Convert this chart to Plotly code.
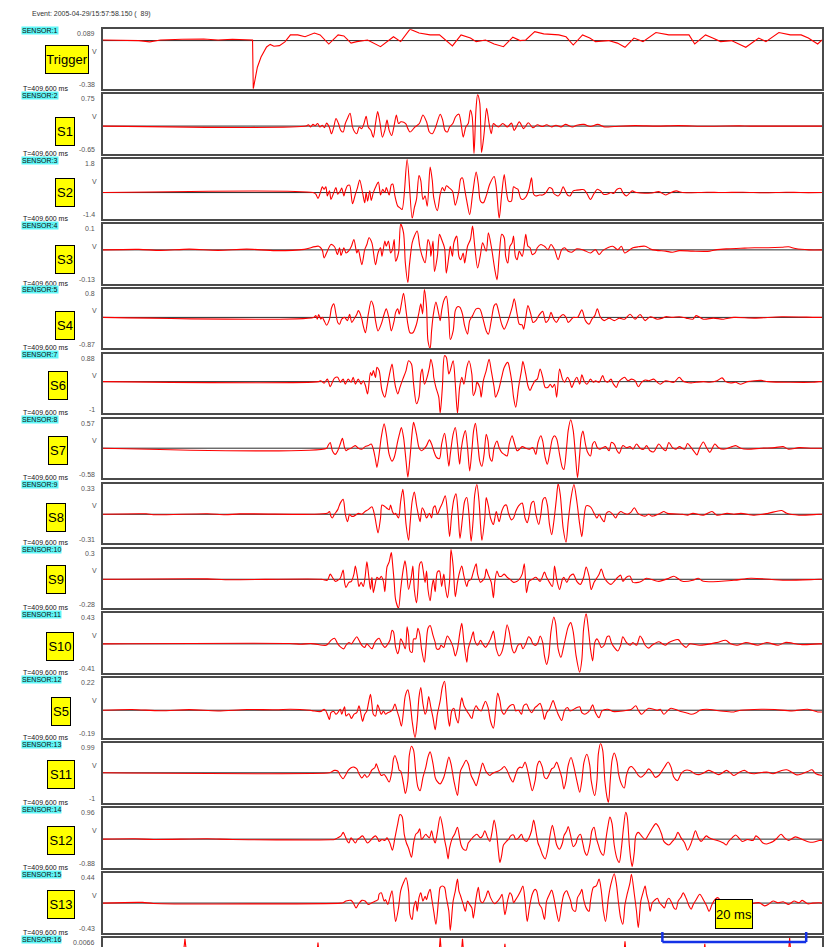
import plotly.graph_objects as go

W, H = 824, 947

# ---------------- data (time in ms, amplitude in V) ----------------
trigger = [(0,0.005),(3,0.005),(5,0),(6.5,-0.01),(8,0.005),(11,0.01),(14,0.012),(16,0.005),(18,0.01),(20.8,0.005),
           (20.9,-0.38),(21.47,-0.21),(21.98,-0.13),(22.75,-0.05),(23.26,-0.03),(23.77,-0.045),(24.54,-0.04),(25.3,-0.01),
           (26.07,0.045),(27.09,0.045),(28.1,0.03),(29.4,0.06),(30.2,0.045),(31.4,-0.027),(32.7,0.045),(33.5,0.037),
           (34.5,-0.02),(35.3,-0.008),(36.8,0.005),(38.6,-0.048),(40.4,0.03),(41.4,-0.008),(42.7,0.09),(43.96,0.06),
           (45.5,0.045),(46.8,0.045),(48.6,-0.042),(49.8,0.045),(51.1,0.02),(51.9,-0.008),(53.2,0.005),(54.4,-0.027),
           (55.7,-0.048),(57.0,0.027),(58.0,0),(58.8,0.005),(60.05,0.07),(61.3,0.053),(63.4,0.045),(64.4,0.03),
           (65.4,-0.035),(66.7,0.045),(67.7,0.02),(68.5,-0.008),(70.3,0),(71.55,-0.02),(72.6,-0.053),(73.85,0.02),
           (75.1,-0.008),(76.9,0.064),(78.7,0.045),(80.2,0.045),(81.5,0.045),(82.3,-0.027),(83.8,0.045),(84.8,0.02),
           (85.9,-0.008),(87.4,0),(89.4,-0.053),(91.2,0.02),(92.2,-0.008),(94.0,0.064),(95.6,0.045),(97.1,0.045),
           (98.1,0.02),(99.4,-0.027),(100,0.005)]

s1 = [(0,0),(28.24,0),(28.56,0.03),(28.88,-0.02),(29.2,0.04),(29.5,0.01),(29.85,0.06),(30.17,-0.02),(30.5,0.02),
      (30.8,-0.04),(31.1,0.07),(31.46,-0.02),(31.78,-0.18),(32.1,-0.02),(32.4,0.18),(32.75,0.06),(33.07,-0.10),
      (33.4,-0.14),(33.7,0.06),(34.0,0.18),(34.36,0.30),(34.7,-0.02),(35.0,-0.14),(35.3,-0.18),(35.64,-0.02),
      (35.97,-0.06),(36.3,0.06),(36.6,0.23),(36.9,-0.02),(37.25,-0.10),(37.6,-0.26),(37.9,0.06),(38.2,0.34),
      (38.5,0.10),(38.86,-0.26),(39.2,-0.10),(39.5,0.14),(39.8,-0.10),(40.15,-0.22),(40.5,0.02),(40.8,0.26),
      (41.1,0.06),(41.44,0.10),(42.1,0.06),(42.4,-0.06),(42.7,-0.14),(43.4,-0.02),(44.0,0.06),(44.5,0.26),
      (45.0,0.10),(45.4,-0.14),(45.8,-0.18),(46.27,-0.02),(46.9,0.28),(47.24,0.14),(47.56,-0.10),(47.9,-0.14),
      (48.2,-0.02),(48.65,0.06),(49.04,0.22),(49.5,0.28),(49.8,0.06),(50.1,-0.26),(50.46,-0.02),(50.8,0.06),
      (51.1,0.38),(51.35,0.22),(51.6,-0.65),(51.87,0.38),(52.1,0.74),(52.4,0.54),(52.65,-0.62),(53.0,-0.18),
      (53.35,0.42),(53.7,0.06),(54.0,-0.18),(54.3,0.06),(54.6,0.02),(55.0,-0.02),(55.6,0.06),(56.25,-0.02),
      (56.8,0.07),(57.2,-0.10),(57.9,0.10),(58.5,-0.06),(59.15,0.08),(59.8,-0.04),(60.4,0.03),(61.1,-0.01),
      (61.7,0.03),(62.4,-0.02),(63.0,0.02),(63.7,-0.02),(64.3,0.04),(65.3,-0.02),(65.9,0.02),(66.9,0.04),
      (67.8,-0.01),(68.8,0.04),(69.8,-0.02),(71.1,-0.01),(74,0.01),(77,0),(80,0.01),(84,-0.005),(88.5,0.005),
      (90,0),(100,0)]

s2 = [(0,0),(29.2,0),(29.6,-0.09),(29.9,-0.31),(30.3,0.09),(30.5,0.31),(30.75,0.18),(31.0,0.31),(31.2,-0.18),
      (31.5,0.09),(31.7,-0.37),(32.1,0),(32.4,0.27),(32.65,-0.09),(33.0,0.09),(33.2,0.24),(33.5,-0.18),(33.7,0.09),
      (34.0,0.37),(34.3,0.40),(34.7,-0.60),(35.1,-0.09),(35.4,0.27),(35.7,0.68),(36.1,0),(36.4,-0.55),(36.6,0),
      (36.8,-0.46),(37.1,0.09),(37.3,-0.42),(37.6,0),(38.0,0.37),(38.3,0.57),(38.6,-0.13),(38.9,0.18),(39.2,0),
      (39.4,0.27),(39.8,-0.13),(40.1,0.42),(40.3,0.46),(40.6,-0.18),(41.0,-0.73),(41.3,-0.82),(41.6,-0.91),
      (42.3,1.77),(43.0,-1.39),(43.3,-0.82),(43.6,-0.37),(43.95,0.91),(44.2,0.64),(44.5,-0.37),(44.8,-0.18),
      (45.1,-0.73),(45.5,1.37),(45.8,0.64),(46.0,-0.27),(46.5,-0.97),(46.9,-0.09),(47.2,0.27),(47.5,0.09),
      (47.75,0.37),(48.1,0.27),(48.6,0.09),(49.0,-0.68),(49.5,0.09),(49.75,0.73),(50.0,0.79),(50.3,0.18),
      (50.6,-0.46),(51.0,-1.19),(51.4,-0.09),(51.9,1.10),(52.2,0.46),(52.5,-0.46),(52.9,-0.55),(53.3,-0.18),
      (53.8,0.46),(54.4,0.86),(54.7,0.27),(55.1,-1.39),(55.45,-0.09),(55.8,0.97),(56.1,0.09),(56.4,-0.46),
      (56.8,-0.46),(57.1,0.31),(57.4,0.24),(57.7,0.18),(58.1,-0.31),(58.4,-0.37),(58.8,-0.24),(59.25,0.18),
      (59.6,0.79),(59.9,-0.09),(60.2,-0.18),(60.7,-0.13),(61.15,-0.13),(61.6,0),(62.1,0.27),(62.5,0.18),
      (62.7,-0.05),(63.3,-0.18),(63.6,-0.05),(64.0,0.31),(64.2,0.18),(64.6,-0.13),(64.95,-0.18),(65.4,0.09),
      (65.9,0.13),(66.5,0.16),(66.9,0.15),(67.3,-0.05),(67.8,-0.37),(68.3,-0.05),(68.75,0.18),(69.2,0.09),
      (69.6,-0.09),(70.1,-0.09),(70.65,0),(71.0,-0.05),(71.5,0.18),(72.0,0.22),(72.3,0),(72.8,-0.18),(73.3,0),
      (73.6,0.09),(74.2,0),(76.35,-0.02),(77.3,0.05),(78.25,-0.13),(78.7,-0.05),(79.7,0.09),(80.6,0),
      (84,0.02),(86,0),(89,0.02),(92,-0.01),(95,0.02),(97,0),(100,0)]

s3 = [(0,0),(5,0.002),(8,-0.002),(12,0.003),(16,-0.002),(20,0.003),(24,-0.003),(28,0.002),(30.0,0.014),
      (30.5,-0.001),(30.75,-0.031),(31.2,-0.005),(31.7,0.021),(32.2,0.012),(32.6,-0.018),(32.9,0.008),
      (33.1,-0.022),(33.5,0.008),(33.8,-0.012),(34.2,-0.003),(34.55,0.014),(34.9,0.04),(35.3,-0.012),
      (35.5,0.001),(36.0,-0.057),(36.4,0.001),(36.7,0.021),(37.0,0.047),(37.4,0.027),(37.9,-0.057),
      (38.25,-0.012),(38.6,0.008),(38.8,-0.025),(39.2,0.034),(39.4,0.014),(39.7,0.034),(40.0,-0.012),
      (40.25,0.001),(40.5,0.04),(40.7,-0.044),(41.1,-0.012),(41.4,0.1),(41.8,0.066),(42.05,-0.051),
      (42.4,-0.126),(42.6,-0.064),(43.0,0.027),(43.3,0.053),(43.7,0.073),(44.05,0.014),(44.4,-0.025),
      (44.8,-0.05),(45.2,0.04),(45.5,0.014),(45.6,-0.025),(45.9,0.034),(46.1,-0.083),(46.5,-0.025),
      (46.8,0.06),(47.1,0.04),(47.5,0.008),(47.75,-0.09),(48.1,-0.025),(48.3,0.014),(48.6,-0.025),
      (48.8,0.027),(49.2,0.053),(49.5,-0.025),(49.75,-0.038),(50.1,-0.012),(50.3,-0.051),(50.7,0.014),
      (51.1,0.04),(51.4,0.092),(51.7,0.014),(52.1,-0.07),(52.5,-0.018),(52.8,0.027),(53.3,-0.005),
      (53.6,0.066),(54.0,0.014),(54.5,-0.077),(54.8,-0.116),(55.1,-0.025),(55.45,0.06),(55.8,0.047),
      (56.0,-0.025),(56.3,-0.051),(56.6,0.014),(56.9,0.027),(57.1,0.053),(57.35,-0.025),(57.6,-0.038),
      (57.9,-0.005),(58.3,-0.025),(58.6,0.021),(58.8,0.06),(59.1,0.014),(59.4,0.008),(59.7,-0.018),
      (60.1,-0.012),(60.4,0.008),(60.9,0.021),(61.4,0.014),(61.9,0.001),(62.3,0.021),(62.8,0.001),
      (63.3,-0.038),(63.8,0.001),(64.2,0.008),(64.7,-0.005),(65.2,-0.009),(65.9,0.004),(66.85,-0.001),
      (67.8,-0.012),(68.5,0.001),(69.0,-0.018),(69.5,-0.003),(70.2,0.008),(70.9,0.014),(71.6,0.001),
      (72.1,0.014),(72.55,-0.012),(73.0,-0.005),(73.7,0.008),(74.45,0.012),(75.4,0.014),(76.35,0.001),
      (78.25,-0.005),(79.2,-0.009),(80.15,-0.003),(82.05,-0.005),(84.4,-0.005),(85.4,0.001),(86.8,0.004),
      (88.7,0.006),(90.6,0.008),(92.5,0.008),(94.4,0.01),(95.35,0.012),(96.3,0.005),(98.2,0),(100,0)]

s4 = [(0,0),(29.3,0),(29.6,0.05),(29.8,-0.05),(30.0,0.08),(30.3,-0.05),(30.5,0),(30.75,-0.09),(31.1,-0.22),
      (31.5,-0.05),(31.8,0.28),(32.1,0.38),(32.4,0.09),(32.65,-0.14),(32.9,-0.19),(33.2,-0.05),(33.6,0),
      (34.0,-0.09),(34.3,0.09),(34.6,-0.14),(34.9,-0.05),(35.3,0.09),(35.5,0.19),(35.7,0.14),(36.0,-0.05),
      (36.2,-0.24),(36.5,-0.43),(36.9,0.09),(37.3,0.46),(37.6,0.33),(37.9,-0.09),(38.25,-0.38),(38.7,-0.19),
      (39.1,0.09),(39.4,0.24),(39.8,-0.05),(40.1,-0.38),(40.5,-0.09),(40.7,0.14),(41.0,0.24),(41.2,0.09),
      (41.5,0.38),(41.8,0.68),(42.15,0.19),(42.4,-0.19),(42.7,-0.43),(43.1,-0.43),(43.6,-0.19),(43.9,0.09),
      (44.2,0.38),(44.45,0.1),(44.7,0.78),(45.0,0.28),(45.2,-0.66),(45.5,-0.87),(45.7,-0.38),(45.95,0.09),
      (46.3,0.43),(46.7,0.09),(46.9,-0.09),(47.1,0.19),(47.4,0.47),(47.75,0.59),(48.1,0),(48.3,-0.62),
      (48.7,-0.38),(49.0,0.19),(49.3,0.30),(49.65,0.28),(50.0,0.09),(50.3,-0.24),(50.7,-0.47),(51.0,-0.09),
      (51.4,0.05),(51.9,0.24),(52.4,0.24),(52.8,0),(53.3,-0.38),(53.6,-0.47),(54.0,-0.09),(54.4,0.33),
      (54.7,0.38),(55.1,0.09),(55.45,-0.19),(55.8,-0.33),(56.4,-0.05),(56.9,0.28),(57.2,0.52),(57.6,0.09),
      (57.9,-0.19),(58.3,-0.21),(58.5,-0.33),(58.8,0),(59.1,0.33),(59.5,0.09),(59.8,-0.14),(60.2,-0.09),
      (60.6,0.05),(61.15,0.17),(61.6,-0.14),(62.0,-0.05),(62.3,0.14),(62.7,-0.05),(63.05,-0.14),(63.5,0),
      (64.0,0.08),(64.4,0),(64.7,-0.14),(65.0,-0.09),(65.4,0),(66.0,0),(66.6,0.21),(67.1,-0.09),(67.6,-0.19),
      (68.0,-0.05),(68.4,0.05),(68.75,0.24),(69.2,0),(69.7,-0.09),(70.4,-0.02),(71.1,-0.09),(71.8,-0.02),
      (72.55,-0.05),(73.3,0.09),(74.0,-0.05),(74.7,0.08),(75.4,-0.09),(76.1,0.02),(77.1,-0.05),(77.8,-0.02),
      (78.25,0.02),(79.2,0),(80.15,0.02),(81.1,-0.02),(82.05,-0.05),(82.5,0.05),(83.5,-0.05),(84.9,-0.02),
      (86.3,-0.05),(87.75,0),(90.6,-0.02),(94.4,0.02),(99.15,0),(100,0)]

s6 = [(0,0),(30.0,0),(30.3,0.03),(30.75,-0.05),(31.2,0.08),(31.6,-0.16),(31.9,-0.02),(32.2,0.11),(32.65,0.14),
      (33.0,-0.02),(33.4,0.08),(33.7,-0.08),(34.1,0.08),(34.5,-0.02),(34.8,0.14),(35.1,-0.08),(35.5,0.08),
      (35.9,-0.08),(36.2,0.03),(36.5,-0.13),(36.8,-0.39),(37.2,0.29),(37.4,0.19),(37.6,0.35),(37.9,0.13),
      (38.1,0.45),(38.4,0.35),(38.8,-0.28),(39.2,-0.49),(39.5,-0.18),(39.9,0.29),(40.2,0.56),(40.5,0.08),
      (40.7,-0.18),(41.0,-0.39),(41.3,-0.18),(41.7,0.08),(42.15,0.35),(42.5,0.66),(42.9,0.56),(43.2,-0.08),
      (43.6,-0.70),(43.95,-0.49),(44.2,0.24),(44.4,0.40),(44.7,-0.08),(45.0,0.08),(45.4,0.45),(45.6,0.71),
      (45.9,0.40),(46.0,0.14),(46.3,-0.18),(46.7,-0.49),(46.9,-1.0),(47.2,-0.18),(47.5,0.82),(47.75,0.77),
      (48.1,0.24),(48.3,0.35),(48.7,0.66),(49.0,-0.08),(49.3,-1.0),(49.6,-0.18),(49.9,0.14),(50.2,-0.08),
      (50.6,0.45),(50.9,0.66),(51.3,0.24),(51.5,-0.44),(51.8,-0.28),(52.0,-0.02),(52.4,-0.18),(52.6,-0.49),
      (52.9,0.03),(53.3,0.35),(53.7,0.71),(54.0,0.35),(54.4,-0.18),(54.6,-0.49),(55.0,-0.28),(55.45,0.14),
      (55.8,0.45),(56.3,0.61),(56.6,0.35),(56.9,-0.08),(57.1,-0.49),(57.4,-0.81),(57.8,-0.18),(58.2,0.35),
      (58.4,0.64),(58.8,0.24),(59.1,-0.13),(59.4,-0.28),(59.7,-0.13),(60.1,0.03),(60.4,0.08),(60.8,0.40),
      (61.15,0.14),(61.5,-0.18),(61.9,-0.18),(62.2,-0.08),(62.5,-0.18),(62.8,-0.08),(63.1,-0.49),(63.5,0.40),
      (63.9,0.08),(64.2,-0.02),(64.6,0.14),(64.9,0.03),(65.2,-0.18),(65.6,0.03),(65.9,0.14),(66.3,-0.08),
      (66.6,0.22),(66.9,0.03),(67.3,-0.08),(67.8,0.08),(68.2,-0.02),(68.5,0.03),(69.0,-0.02),(69.5,0.19),
      (69.8,0.03),(70.2,-0.02),(70.65,0.08),(71.0,-0.08),(71.4,-0.18),(71.7,-0.02),(72.1,0.08),(72.55,0.14),
      (73.0,0.03),(73.5,0.08),(74.0,0.03),(74.45,-0.16),(74.9,-0.02),(75.4,0.05),(75.9,0.03),(76.6,0.08),
      (77.1,-0.02),(77.5,-0.08),(78.25,0.03),(79.4,-0.02),(80.15,0.14),(80.6,0.03),(81.1,-0.02),(81.8,-0.04),
      (82.5,-0.02),(83.5,0),(84.4,-0.02),(85.4,0.03),(86.1,0.12),(86.6,0),(87.3,-0.04),(88.0,-0.02),
      (88.7,-0.08),(89.65,0),(90.6,0.03),(91.55,0.04),(92.5,0),(98.7,-0.02),(99.6,0),(100,0)]

s7 = [(0,0),(31.1,0),(31.3,0.05),(31.6,0.11),(31.9,-0.05),(32.3,-0.12),(32.65,-0.05),(33.0,0.08),(33.3,0.19),
      (33.6,0.01),(33.8,-0.05),(34.1,-0.02),(34.5,0),(34.8,0.03),(35.1,0.05),(35.5,0),(36.0,-0.02),(36.45,0.03),
      (36.9,0.05),(37.3,0.08),(37.6,-0.02),(37.9,-0.22),(38.1,-0.37),(38.4,-0.12),(38.7,0.21),(39.1,0.47),
      (39.4,0.27),(39.8,-0.12),(40.2,-0.25),(40.5,-0.18),(41.0,0.14),(41.3,0.31),(41.5,0.40),(41.8,0.21),
      (42.15,-0.25),(42.4,-0.56),(42.7,-0.18),(43.0,0.31),(43.2,0.50),(43.6,0.27),(43.95,0.01),(44.3,-0.05),
      (44.6,-0.02),(45.0,0.05),(45.4,0.16),(45.7,0.08),(46.0,-0.05),(46.4,-0.18),(46.8,-0.20),(47.1,0.08),
      (47.5,0.29),(47.75,0.08),(48.1,-0.35),(48.3,-0.12),(48.7,0.27),(49.0,0.40),(49.3,0.08),(49.6,-0.31),
      (49.8,-0.05),(50.1,0.21),(50.4,0.34),(50.7,0.01),(51.0,-0.44),(51.3,-0.05),(51.55,0.34),(51.8,0.48),
      (52.1,0.14),(52.4,-0.25),(52.7,-0.35),(53.0,-0.12),(53.3,0.27),(53.55,0.14),(53.8,-0.18),(54.1,-0.25),
      (54.4,0.01),(54.8,0.14),(55.1,0.01),(55.45,-0.08),(55.8,-0.12),(56.2,-0.15),(56.5,0.08),(56.9,0.24),
      (57.2,0.11),(57.6,-0.05),(57.9,-0.02),(58.3,0.03),(58.8,0),(59.25,-0.02),(59.8,0.01),(60.2,-0.12),
      (60.5,0.11),(60.9,0.24),(61.15,0.14),(61.5,-0.18),(61.8,-0.31),(62.1,-0.12),(62.5,0.18),(62.8,0.24),
      (63.1,0.18),(63.5,-0.12),(63.9,-0.38),(64.1,-0.41),(64.5,0.05),(64.7,0.34),(65.05,0.55),(65.4,0.34),
      (65.7,-0.12),(66.0,-0.57),(66.3,-0.12),(66.5,0.21),(66.75,0.33),(67.1,0.08),(67.4,-0.08),(67.8,-0.15),
      (68.1,0.08),(68.4,0.13),(68.75,0.01),(69.1,-0.02),(69.5,0.01),(69.9,0.03),(70.4,-0.05),(70.7,0.11),
      (71.1,0.08),(71.5,-0.05),(71.8,-0.10),(72.3,0.05),(72.8,0.01),(73.3,0.03),(73.7,-0.02),(74.2,0.08),
      (74.7,0),(75.2,-0.02),(75.6,0.05),(76.1,-0.05),(76.6,-0.07),(77.3,0.08),(77.8,0),(78.25,-0.05),
      (78.7,0.11),(79.2,0.01),(79.7,-0.02),(80.15,0.03),(80.9,-0.02),(81.3,0.09),(81.8,0.01),(82.3,-0.08),
      (82.6,-0.13),(83.0,0.01),(83.5,0.12),(83.95,0.01),(84.4,-0.08),(85.1,0.08),(85.6,0.01),(86.3,-0.02),
      (86.9,0),(87.5,0.03),(88.0,0.05),(88.7,0),(89.65,-0.02),(91.55,0),(93.45,0.01),(94.6,0.03),
      (95.35,-0.02),(96.8,0.01),(98.7,0),(100,0)]

s8 = [(0,0),(6,0.005),(7,-0.005),(14.5,0.005),(17,-0.005),(19,0.004),(28.85,0),(31.2,0.01),(31.5,0.03),
      (31.7,-0.02),(31.9,-0.04),(32.2,0),(32.65,0.05),(33.0,0.12),(33.4,0.16),(33.7,0),(34.0,-0.08),(34.3,0),
      (34.55,-0.02),(34.9,-0.02),(35.3,0),(35.5,0.01),(36.0,0),(36.45,0.03),(36.9,0.05),(37.4,0.08),
      (37.8,-0.02),(38.0,-0.11),(38.25,-0.20),(38.6,-0.04),(38.8,0.10),(39.1,0.09),(39.4,0.07),(39.8,0.05),
      (40.0,0.10),(40.25,0.03),(40.5,0),(40.7,0.01),(41.1,-0.04),(41.4,0.14),(41.7,0.27),(41.9,0.14),
      (42.15,-0.11),(42.5,-0.28),(42.7,-0.11),(43.0,0.14),(43.3,0.24),(43.6,0.10),(43.95,-0.04),(44.1,-0.08),
      (44.4,0.07),(44.7,0.03),(45.0,-0.04),(45.4,0.01),(45.7,-0.04),(45.95,0.07),(46.2,0.09),(46.5,0),
      (46.9,0.07),(47.2,0.12),(47.6,0.20),(47.9,0.03),(48.2,-0.24),(48.5,0),(48.8,0.16),(49.1,0.22),(49.4,0),
      (49.65,-0.26),(50.0,-0.04),(50.3,0.14),(50.6,0.18),(50.9,0),(51.2,-0.29),(51.5,-0.04),(51.7,0.21),
      (52.0,0.32),(52.3,0.14),(52.5,-0.11),(52.7,-0.28),(53.1,-0.04),(53.3,0.18),(53.6,0.09),(53.9,-0.04),
      (54.3,-0.11),(54.5,-0.04),(54.7,0.03),(55.1,-0.08),(55.45,0.03),(55.8,0.09),(56.1,0.10),(56.4,0.01),
      (56.8,-0.06),(57.1,-0.04),(57.4,0.03),(57.8,0.09),(58.3,0.12),(58.7,-0.04),(59.0,-0.09),(59.3,0),
      (59.6,0.12),(59.9,0.14),(60.2,0),(60.6,-0.11),(60.9,0),(61.2,0.16),(61.5,0.18),(61.8,0.10),
      (62.1,-0.11),(62.4,-0.22),(62.7,-0.08),(63.05,0.16),(63.3,0.33),(63.6,0.21),(64.0,-0.15),(64.4,-0.30),
      (64.7,-0.08),(65.1,0.18),(65.5,0.32),(65.9,0.14),(66.3,-0.11),(66.6,-0.24),(66.9,-0.04),(67.2,0.09),
      (67.6,0.09),(67.9,0.07),(68.3,0.01),(68.7,-0.04),(69.0,0),(69.3,-0.04),(69.7,-0.08),(70.0,0.01),
      (70.4,0.03),(70.9,0),(71.3,-0.04),(71.6,0),(72.0,0.03),(72.5,0.01),(72.9,0),(73.4,0.02),(73.9,0.07),
      (74.4,0.01),(75.4,-0.02),(75.9,0),(76.35,-0.02),(77.5,0.01),(78.0,0.03),(78.5,0.01),(80.6,0),
      (81.3,-0.01),(82.05,0.01),(83.5,-0.01),(84.7,0.03),(85.4,-0.01),(86.8,0.01),(87.75,0),(88.7,0.01),
      (90.6,-0.01),(92.5,0.01),(94.4,0.04),(95.1,0.01),(96.8,-0.01),(99.6,0),(100,0)]

s9 = [(0,0),(14.5,0.004),(17,-0.004),(30.4,0),(31.2,-0.01),(31.6,0.05),(31.9,0.02),(32.3,-0.02),(32.65,-0.01),
      (33.0,0.01),(33.4,0.09),(33.6,-0.03),(33.8,-0.08),(34.2,-0.03),(34.55,-0.02),(34.9,0.05),(35.1,0.13),
      (35.4,0.02),(35.6,-0.07),(35.9,-0.03),(36.2,-0.07),(36.45,0.02),(36.7,0.17),(36.9,0.07),(37.2,-0.10),
      (37.4,0.02),(37.6,-0.13),(37.9,-0.03),(38.1,0.02),(38.4,0),(38.7,0.03),(39.0,-0.02),(39.2,-0.12),
      (39.5,0.12),(39.8,0.17),(40.1,0.26),(40.25,0.17),(40.5,-0.03),(40.7,-0.20),(41.1,-0.28),(41.4,-0.10),
      (41.7,0.07),(42.0,0.18),(42.2,0.10),(42.5,-0.10),(42.9,0.03),(43.1,0.13),(43.3,-0.10),(43.6,-0.23),
      (43.8,-0.10),(44.05,0.15),(44.3,0.17),(44.5,0.10),(44.8,-0.03),(45.0,0.08),(45.2,-0.10),(45.5,-0.21),
      (45.7,-0.10),(45.95,0),(46.2,-0.12),(46.5,0.07),(46.8,0.08),(47.1,-0.07),(47.4,0.05),(47.6,-0.07),
      (47.9,-0.18),(48.2,-0.02),(48.4,0.29),(48.7,0.13),(49.0,-0.17),(49.3,-0.03),(49.6,0.07),(49.9,0.13),
      (50.2,0.03),(50.6,-0.07),(50.8,-0.02),(51.2,0),(51.5,0.07),(51.9,0.15),(52.1,0.05),(52.5,-0.03),
      (52.7,-0.02),(53.1,0.02),(53.3,0.10),(53.55,0.05),(54.0,-0.03),(54.3,-0.18),(54.5,-0.02),(54.8,0.08),
      (55.1,0.03),(55.45,0.03),(55.8,0.05),(56.2,0.02),(56.6,0),(57.1,-0.03),(57.6,-0.02),(57.9,0),(58.3,0.05),
      (58.6,0.15),(58.9,-0.13),(59.25,-0.02),(59.7,0),(60.2,0.02),(60.8,-0.02),(61.4,0.07),(61.7,0.02),
      (62.1,-0.03),(62.5,-0.07),(62.8,0.13),(63.1,0),(63.5,-0.10),(63.9,0),(64.1,0.02),(64.5,-0.03),
      (64.95,0.03),(65.4,0.05),(65.9,-0.02),(66.4,-0.05),(66.85,0.02),(67.2,0.12),(67.6,0.03),(67.9,-0.10),
      (68.3,-0.03),(68.75,0.02),(69.0,0.05),(69.3,0.10),(69.7,0.02),(70.2,-0.03),(70.65,-0.05),(71.1,-0.02),
      (71.6,0.02),(72.0,0.04),(72.3,-0.02),(72.8,0.02),(73.3,0.03),(73.7,-0.03),(74.45,-0.03),(74.9,-0.02),
      (75.6,0.01),(77.3,-0.02),(78.7,0.01),(79.4,0.03),(79.9,0.01),(80.6,-0.02),(82.05,-0.01),(82.8,0.01),
      (83.5,-0.02),(87.75,-0.01),(90.1,0.01),(94.9,-0.01),(99.6,0),(100,0)]

s10 = [(0,0),(26,0.005),(27.5,-0.005),(29,0.004),(31.0,-0.02),(31.3,0),(31.7,0.05),(32.2,0.08),(32.65,0),
       (33.1,-0.05),(33.5,-0.07),(33.8,-0.02),(34.2,0.02),(34.55,0),(34.9,0.05),(35.3,0.10),(35.6,0.05),
       (36.0,-0.02),(36.4,-0.05),(36.7,0),(37.4,-0.07),(37.8,0.02),(38.1,0.06),(38.4,0.08),(38.8,0),
       (39.2,-0.05),(39.5,-0.02),(39.9,0.05),(40.2,0.19),(40.4,0.17),(40.7,-0.05),(41.0,-0.14),(41.2,-0.07),
       (41.4,0.07),(41.7,0.02),(42.05,-0.07),(42.3,0.24),(42.5,0.12),(42.7,-0.10),(43.0,-0.12),(43.2,0.07),
       (43.5,0.07),(43.8,0.22),(44.05,0.14),(44.3,-0.07),(44.7,-0.26),(44.9,-0.07),(45.2,0.22),(45.5,0.26),
       (45.9,0.12),(46.2,0.02),(46.4,-0.07),(46.8,-0.07),(47.0,-0.02),(47.4,-0.05),(47.6,0.02),(47.9,0.11),
       (48.3,0.05),(48.7,-0.05),(49.0,-0.17),(49.3,-0.07),(49.65,0.17),(49.9,0.29),(50.2,0.02),(50.6,-0.26),
       (50.8,-0.07),(51.2,0.07),(51.5,0.17),(51.7,0.05),(52.1,-0.02),(52.5,0.05),(52.8,0),(53.2,-0.05),
       (53.55,0),(53.9,0.07),(54.3,0.18),(54.5,0.07),(54.7,-0.07),(55.1,-0.17),(55.45,-0.12),(55.8,0.02),
       (56.2,0.27),(56.5,0.17),(56.9,-0.07),(57.2,-0.13),(57.4,-0.10),(57.7,-0.02),(58.1,0),(58.4,-0.07),
       (58.8,0),(59.2,0.10),(59.5,0.07),(59.8,0),(60.2,-0.02),(60.5,0.02),(60.8,0.11),(61.15,0.02),
       (61.4,-0.17),(61.7,-0.29),(62.0,-0.17),(62.3,0.17),(62.7,0.38),(62.95,0.29),(63.3,-0.07),(63.7,-0.19),
       (64.0,-0.07),(64.4,0.12),(64.7,0.24),(65.05,0.30),(65.4,0.17),(65.8,-0.17),(66.3,-0.40),(66.6,-0.22),
       (66.85,0.22),(67.2,0.43),(67.5,0.22),(67.8,-0.07),(68.1,-0.24),(68.4,0.02),(68.7,0.07),(69.0,0.02),
       (69.3,-0.05),(69.7,-0.02),(70.1,0.10),(70.4,0.11),(70.7,0.02),(71.1,-0.05),(71.6,-0.10),(72.0,-0.02),
       (72.3,0.10),(72.8,0.02),(73.3,-0.02),(73.7,0.02),(74.2,-0.02),(74.7,0.11),(75.0,0.07),(75.4,-0.02),
       (75.9,-0.06),(76.35,-0.02),(77.3,0.03),(77.8,0),(78.25,-0.02),(78.7,0.02),(80.0,0.06),(80.5,0),
       (81.1,-0.05),(81.6,0),(83.0,-0.02),(85.4,0.02),(86.6,0.05),(87.3,0),(88.2,-0.02),(89.4,0.02),
       (91.1,-0.02),(92.3,0.02),(93.9,-0.02),(94.9,0.02),(97.0,-0.01),(99.6,0),(100,0)]

s5 = [(0,0),(4,0.005),(8,-0.004),(12,0.004),(16,-0.005),(20,0.005),(24,0.003),(26.0,0.007),(27.4,0.005),
      (28.85,0),(29.3,-0.005),(30.3,-0.009),(30.75,0.007),(31.0,-0.005),(31.2,-0.028),(31.5,-0.064),
      (31.7,-0.017),(32.1,-0.009),(32.4,-0.028),(32.65,-0.017),(33.0,0.007),(33.2,-0.028),(33.6,0.024),
      (33.8,-0.040),(34.2,-0.024),(34.55,-0.057),(34.9,-0.028),(35.3,-0.017),(35.6,0.031),(35.8,-0.005),
      (36.1,-0.076),(36.4,-0.028),(36.7,-0.005),(36.9,0.043),(37.2,0.109),(37.4,0.043),(37.6,-0.028),
      (37.9,-0.040),(38.2,0.038),(38.4,0.014),(38.7,-0.028),(39.0,-0.005),(39.3,-0.028),(39.6,-0.017),
      (40.0,-0.009),(40.3,0.007),(40.6,0.043),(40.9,-0.005),(41.2,-0.052),(41.5,-0.11),(41.8,-0.005),
      (42.05,0.10),(42.4,0.14),(42.7,0.066),(43.0,-0.076),(43.4,-0.19),(43.7,-0.076),(43.95,0.090),
      (44.2,0.156),(44.5,0.043),(44.8,-0.028),(45.0,-0.005),(45.3,0.095),(45.6,0.019),(45.9,-0.052),
      (46.2,-0.135),(46.5,-0.028),(46.9,0.066),(47.2,0.16),(47.5,0.20),(47.75,0.090),(48.0,-0.052),
      (48.2,-0.11),(48.5,-0.005),(48.8,0.014),(49.1,-0.052),(49.4,-0.088),(49.65,0.019),(49.9,0.085),
      (50.2,0.031),(50.6,-0.005),(50.9,-0.028),(51.3,-0.057),(51.55,-0.005),(51.9,0.031),(52.2,0.007),
      (52.6,-0.005),(52.9,0.031),(53.2,0.062),(53.55,0.019),(53.9,-0.076),(54.3,-0.123),(54.6,-0.005),
      (54.9,0.118),(55.2,0.066),(55.45,-0.005),(55.8,-0.028),(56.2,0.007),(56.6,0.031),(57.1,0.038),
      (57.4,-0.005),(57.8,0),(58.2,-0.028),(58.5,0.031),(58.9,0.043),(59.25,0.007),(59.6,-0.017),
      (60.1,0.019),(60.4,0.031),(60.8,0.047),(61.15,-0.005),(61.4,-0.064),(61.7,-0.017),(62.1,0.007),
      (62.6,0.066),(62.95,0.019),(63.3,-0.028),(63.8,-0.071),(64.2,0),(64.6,0.019),(64.95,-0.005),
      (65.9,0.019),(66.3,0.024),(66.6,-0.017),(67.0,-0.028),(67.4,-0.017),(67.8,0.007),(68.1,0.038),
      (68.4,-0.005),(68.75,-0.040),(69.0,-0.052),(69.4,-0.005),(70.2,0.007),(70.9,-0.009),(72.3,-0.005),
      (73.5,0.007),(74.1,0.031),(74.45,0),(74.9,-0.028),(75.4,-0.005),(75.9,0.014),(77.1,0),(77.5,0.007),
      (78.0,-0.028),(78.5,-0.005),(79.0,0.014),(80.15,-0.005),(81.1,-0.017),(81.8,-0.028),(82.5,-0.017),
      (83.0,0),(83.95,0.007),(85.9,-0.005),(87.75,-0.012),(88.7,0),(91.55,0.007),(93.45,0.005),
      (95.8,-0.005),(98.0,0.007),(99.4,-0.012),(100,-0.012)]

s11 = [(0,0),(31.5,0),(31.7,0.02),(32.2,0.08),(32.65,0.06),(33.0,-0.09),(33.4,-0.20),(33.7,-0.09),(34.1,0.08),
       (34.5,0.17),(34.9,0.19),(35.3,0.13),(35.6,-0.03),(36.0,-0.17),(36.4,-0.06),(36.7,-0.15),(37.0,-0.09),
       (37.4,0.10),(37.8,0.17),(38.0,0.30),(38.35,0.08),(38.7,-0.09),(39.1,-0.06),(39.4,-0.15),(39.8,-0.31),
       (40.2,0.08),(40.4,0.47),(40.6,0.58),(41.0,0.30),(41.2,0.08),(41.4,0.06),(41.8,-0.37),(42.05,-0.69),
       (42.4,-0.26),(42.6,0.58),(42.9,0.89),(43.2,0.75),(43.5,0.02),(43.8,-0.48),(44.1,-0.60),(44.5,-0.15),
       (44.9,0.19),(45.2,0.53),(45.5,0.70),(45.9,0.30),(46.2,-0.15),(46.4,-0.26),(46.9,-0.37),(47.4,-0.15),
       (47.75,0.19),(48.1,0.53),(48.4,0.30),(48.8,-0.26),(49.3,-0.76),(49.5,-0.37),(49.75,0.08),(50.1,0.25),
       (50.5,0.42),(50.8,0.30),(51.2,-0.09),(51.55,-0.26),(51.9,-0.43),(52.2,-0.20),(52.5,0.08),(52.8,0.33),
       (53.2,0.08),(53.5,-0.03),(53.8,-0.09),(54.1,-0.03),(54.5,0.02),(55.0,0.06),(55.45,0.13),(55.8,0.21),
       (56.2,0.08),(56.6,-0.15),(57.0,-0.31),(57.35,-0.09),(57.7,0.13),(58.0,0.19),(58.3,0.17),(58.7,0.36),
       (59.0,0.13),(59.3,-0.20),(59.7,-0.60),(60.1,-0.26),(60.4,0.25),(60.7,0.39),(61.1,0.19),(61.4,-0.15),
       (61.7,-0.20),(62.1,-0.03),(62.4,0.13),(62.7,0.17),(63.1,0.36),(63.4,0.17),(63.8,-0.15),(64.1,-0.54),
       (64.4,-0.26),(64.7,0.25),(65.1,0.51),(65.5,0.19),(65.9,-0.26),(66.3,-0.65),(66.6,-0.26),(66.9,0.36),
       (67.3,0.62),(67.7,0.25),(67.9,-0.26),(68.4,-0.76),(68.7,-0.26),(68.9,0.64),(69.2,0.98),(69.5,0.75),
       (69.8,-0.26),(70.1,-0.82),(70.3,-0.99),(70.55,-0.26),(70.8,0.42),(71.1,0.66),(71.5,0.36),(71.7,-0.03),
       (72.1,-0.37),(72.5,-0.51),(72.8,-0.09),(73.2,0.17),(73.5,0.21),(74.0,0.08),(74.45,-0.09),(74.8,-0.15),
       (75.4,-0.03),(75.9,0.13),(76.35,0.02),(76.8,-0.15),(77.3,-0.09),(77.8,0.08),(78.25,0.25),(78.6,0.36),
       (79.0,0.19),(79.4,-0.15),(79.9,-0.26),(80.4,-0.03),(80.9,0.08),(81.6,0.08),(82.3,-0.03),(82.9,-0.06),
       (83.5,-0.01),(84.2,0.08),(84.9,0.02),(85.6,-0.06),(86.1,-0.01),(86.7,0.08),(87.3,-0.01),(87.75,-0.09),
       (88.5,0.02),(89.2,0.08),(89.9,-0.01),(90.6,-0.03),(91.55,0.01),(92.5,0.02),(93.2,-0.03),(94.4,0.08),
       (95.1,0.10),(95.8,0.02),(96.5,-0.07),(97.25,-0.03),(98.0,0.04),(98.6,0.10),(99.15,-0.03),(100,-0.09)]

s12 = [(0,0),(4.5,0.01),(7,-0.01),(14.5,0.01),(18,-0.01),(31.7,-0.02),(32.2,-0.01),(32.65,0.04),(33.1,0.10),
       (33.4,0.21),(33.6,0.13),(34.0,-0.07),(34.2,-0.12),(34.5,0.04),(34.8,-0.04),(35.1,-0.12),(35.4,-0.01),
       (35.7,0.04),(36.1,0.10),(36.45,-0.01),(36.8,-0.12),(37.2,-0.04),(37.5,0.04),(37.9,0.10),(38.2,0.02),
       (38.4,-0.07),(38.8,-0.01),(39.2,-0.04),(39.5,0.04),(39.9,-0.12),(40.25,-0.34),(40.6,0.04),(41.0,0.48),
       (41.3,0.76),(41.6,0.70),(41.9,0.15),(42.2,-0.12),(42.5,-0.28),(42.9,-0.56),(43.2,-0.12),(43.5,0.15),
       (43.8,0.21),(44.05,0.32),(44.3,-0.01),(44.5,0.04),(44.9,0.15),(45.1,0.10),(45.4,0.04),(45.7,0.26),
       (45.95,0.02),(46.2,-0.12),(46.5,0.21),(46.9,0.70),(47.2,0.43),(47.5,-0.01),(47.75,-0.28),(48.0,-0.61),
       (48.2,-0.28),(48.6,0.04),(48.9,0.15),(49.3,0.37),(49.6,0.04),(49.8,-0.18),(50.1,-0.31),(50.5,-0.34),
       (50.8,-0.12),(51.2,-0.01),(51.65,0.10),(52.0,0.15),(52.5,0.04),(52.8,0.10),(53.1,0.26),(53.5,0.04),
       (53.8,-0.07),(54.1,0.21),(54.4,0.59),(54.7,0.26),(55.0,-0.39),(55.2,-0.72),(55.45,-0.50),(55.7,-0.18),
       (56.1,-0.07),(56.4,-0.01),(56.7,0.10),(57.1,0.13),(57.4,-0.01),(57.8,0.04),(58.2,0.15),(58.5,-0.01),
       (58.9,-0.07),(59.25,0.04),(59.6,0.26),(59.9,0.59),(60.2,0.26),(60.5,-0.12),(60.8,-0.28),(61.15,-0.50),
       (61.5,-0.61),(61.9,-0.28),(62.2,0.15),(62.5,0.43),(62.8,0.15),(63.1,-0.18),(63.5,-0.31),(63.9,-0.12),
       (64.1,0.10),(64.5,0.26),(64.7,0.39),(65.05,0.10),(65.4,-0.23),(65.8,-0.12),(66.0,0.04),(66.4,0.15),
       (66.7,-0.09),(67.0,-0.39),(67.3,-0.50),(67.7,-0.18),(68.0,0.26),(68.3,0.37),(68.6,0.04),(68.9,-0.18),
       (69.2,-0.39),(69.6,-0.50),(69.9,-0.07),(70.2,0.37),(70.5,0.68),(70.8,0.48),(71.1,-0.18),(71.5,-0.61),
       (71.8,-0.72),(72.1,-0.28),(72.4,0.37),(72.7,0.83),(72.9,0.70),(73.2,-0.18),(73.4,-0.61),(73.6,-0.85),
       (73.9,-0.39),(74.1,0.10),(74.45,0.21),(74.9,0.10),(75.4,-0.01),(75.9,0.15),(76.35,0.32),(76.9,0.48),
       (77.3,0.37),(77.7,0.15),(78.0,-0.07),(78.7,-0.18),(79.2,-0.07),(79.6,0.04),(79.96,0.21),(80.4,0.04),
       (80.9,-0.12),(81.3,-0.34),(81.7,-0.18),(82.05,0.04),(82.4,0.26),(82.8,0.04),(83.2,-0.07),(83.9,0.10),
       (84.3,0.04),(84.9,-0.01),(85.85,-0.07),(86.3,-0.12),(86.7,-0.18),(87.0,-0.07),(87.5,0.04),(88.0,0.13),
       (88.5,0.02),(88.9,-0.07),(89.65,-0.01),(90.4,-0.04),(90.8,0.10),(91.2,0.04),(91.8,-0.12),(92.3,-0.15),
       (92.7,-0.12),(93.2,-0.07),(93.7,0.02),(94.3,0.15),(94.8,0.04),(95.35,-0.04),(96.3,0.07),(97.25,-0.01),
       (98.2,-0.09),(98.9,-0.09),(99.6,-0.04),(100,-0.04)]

s13 = [(0,0),(5.5,0.01),(7,-0.005),(33.1,0),(33.4,0.005),(33.8,0.03),(34.5,0.04),(34.8,0.005),(35.2,-0.07),
       (35.5,-0.02),(36.0,0.04),(36.45,0.03),(36.9,-0.02),(37.4,0.005),(37.9,0.03),(38.25,0.05),(38.4,0.13),
       (38.7,0.15),(39.1,0.03),(39.3,0.05),(39.6,-0.02),(39.9,0.08),(40.2,0.18),(40.5,-0.12),(40.7,-0.27),
       (41.1,-0.07),(41.4,0.18),(41.8,0.30),(42.15,0.37),(42.5,0.18),(42.7,-0.17),(43.0,-0.24),(43.2,-0.07),
       (43.5,0.03),(43.7,-0.12),(43.95,0.08),(44.2,0.15),(44.5,0.03),(44.8,0.10),(45.0,0.05),(45.2,0.13),
       (45.5,0.20),(45.7,0.08),(46.0,-0.12),(46.3,-0.31),(46.7,0.08),(46.9,0.23),(47.2,0.25),(47.5,0.23),
       (47.75,0.08),(48.1,-0.12),(48.3,-0.40),(48.7,0.03),(49.0,0.18),(49.3,0.35),(49.5,0.18),(49.75,0.10),
       (50.1,-0.02),(50.4,-0.12),(50.7,0.03),(51.0,-0.02),(51.3,-0.07),(51.5,-0.22),(51.9,0.08),(52.2,0.23),
       (52.5,0.03),(52.8,0.005),(53.2,0.08),(53.55,0.18),(53.9,0.08),(54.3,0.005),(54.5,-0.01),(54.9,0.03),
       (55.3,0.09),(55.5,0.13),(55.9,-0.17),(56.3,0.05),(56.6,0.15),(56.9,0.10),(57.1,0.005),(57.4,0.05),
       (57.7,0.10),(58.1,0.18),(58.4,0.25),(58.7,0.03),(59.0,-0.27),(59.3,-0.07),(59.7,0.13),(60.1,0.20),
       (60.3,0.18),(60.7,-0.02),(61.0,-0.07),(61.4,-0.24),(61.7,0.03),(62.1,0.13),(62.4,0.19),(62.7,0.08),
       (63.05,-0.12),(63.4,-0.27),(63.8,-0.02),(64.1,0.13),(64.5,0.18),(64.7,0.13),(65.05,0.03),(65.3,-0.09),
       (65.7,-0.12),(66.0,0.08),(66.4,0.15),(66.6,0.20),(66.85,0.05),(67.2,-0.07),(67.6,-0.12),(67.8,0.03),
       (68.2,0.23),(68.6,0.25),(69.0,0.35),(69.3,0.18),(69.6,-0.12),(69.9,-0.27),(70.3,0.08),(70.65,0.28),
       (71.1,0.43),(71.4,0.28),(71.7,0.005),(72.0,-0.22),(72.3,-0.31),(72.6,-0.02),(72.9,0.13),(73.3,0.30),
       (73.5,0.42),(73.9,0.13),(74.2,-0.12),(74.45,-0.36),(74.8,0.03),(75.1,0.15),(75.4,0.25),(75.6,0.13),
       (75.9,0.005),(76.1,-0.12),(76.4,0.005),(76.7,0.04),(77.1,0.07),(77.4,0.005),(77.8,-0.04),(78.1,-0.07),
       (78.4,0.03),(78.7,0.07),(79.1,0.005),(79.4,-0.07),(79.7,-0.09),(80.0,0.03),(80.4,0.09),(80.7,0.15),
       (81.1,0.07),(81.5,-0.04),(81.8,-0.09),(82.1,-0.02),(82.5,0.05),(83.0,0.13),(83.5,0.05),(83.95,-0.04),
       (84.3,-0.12),(84.7,-0.02),(85.1,0.05),(85.5,0.08),(86.3,0),(87.75,0.03),(89.2,-0.02),(90.6,0),
       (91.3,0.005),(92.0,-0.04),(92.5,-0.02),(93.2,0.03),(93.9,0.005),(94.6,0.02),(95.35,-0.02),(96.1,0.03),
       (96.8,0.005),(97.25,0.04),(98.0,-0.01),(98.7,0),(99.6,0.005),(100,0)]

s16 = [(0,0),(11.0,0),(11.4,0.0064),(11.8,0),(29.6,0),(29.9,0.0055),(30.2,0),(46.6,0),(46.9,0.0066),(47.2,0),
       (49.7,0),(50.0,0.0064),(50.3,0),(55.6,0),(55.9,0.0052),(56.2,0),(72.3,0),(72.6,0.0058),(72.9,0),
       (83.4,0),(83.7,0.0052),(84.0,0),(95.2,0),(95.5,0.0066),(95.8,0),(100,0)]

series = [trigger, s1, s2, s3, s4, s6, s7, s8, s9, s10, s5, s11, s12, s13, s16]
sensor_names = ["SENSOR:1", "SENSOR:2", "SENSOR:3", "SENSOR:4", "SENSOR:5", "SENSOR:7", "SENSOR:8",
                "SENSOR:9", "SENSOR:10", "SENSOR:11", "SENSOR:12", "SENSOR:13", "SENSOR:14", "SENSOR:15", "SENSOR:16"]
box_labels = ["Trigger", "S1", "S2", "S3", "S4", "S6", "S7", "S8", "S9", "S10", "S5", "S11", "S12", "S13"]
y_max = [0.089, 0.75, 1.8, 0.1, 0.8, 0.88, 0.57, 0.33, 0.3, 0.43, 0.22, 0.99, 0.96, 0.44, 0.0066]
y_min = [-0.38, -0.65, -1.4, -0.13, -0.87, -1, -0.58, -0.31, -0.28, -0.41, -0.19, -1, -0.88, -0.43, 0.0044]
max_text = ["0.089", "0.75", "1.8", "0.1", "0.8", "0.88", "0.57", "0.33", "0.3", "0.43", "0.22", "0.99", "0.96", "0.44", "0.0066"]
min_text = ["-0.38", "-0.65", "-1.4", "-0.13", "-0.87", "-1", "-0.58", "-0.31", "-0.28", "-0.41", "-0.19", "-1", "-0.88", "-0.43"]
time_label = "T=409,600 ms"
event_title = "Event: 2005-04-29/15:57:58.150 (  89)"
x_range = [0, 100]
scale_start, scale_len = 77.8, 20

# ---------------- layout helpers (pixel positions) ----------------
def px(x):
    return x / W

def py(y):
    return 1 - y / H

TOP0, PITCH, PH = 29.3, 64.9, 59.5
box_cy = [60, 131.5, 193, 260, 325.5, 385.5, 450.5, 517, 579.5, 646, 711, 774.5, 840.5, 904]
box_cx = [67, 65, 65, 65, 65, 58, 58, 56, 56, 60.5, 61, 61, 61, 61]
box_w = [42, 18, 18, 18, 18, 18, 18, 18, 18, 26, 18, 26, 26, 26]

FONT = "Liberation Sans, Arial, sans-serif"
fig = go.Figure()
layout = {}
shapes = []
ann = []

for i, data in enumerate(series):
    sfx = "" if i == 0 else str(i + 1)
    if i < 14:
        top = TOP0 + PITCH * i
        bot = top + PH
    else:
        top, bot = 938, H
    layout["xaxis" + sfx] = dict(domain=[px(103), px(822)], range=x_range, showticklabels=False, ticks="",
                                 showgrid=False, zeroline=False, showline=True, mirror=True,
                                 linecolor="#4a4a4a", linewidth=1.5, anchor="y" + sfx, fixedrange=True)
    layout["yaxis" + sfx] = dict(domain=[py(bot), py(top)], range=[y_min[i], y_max[i]], showticklabels=False,
                                 ticks="", showgrid=False, zeroline=False, showline=True, mirror=True,
                                 linecolor="#4a4a4a", linewidth=1.5, anchor="x" + sfx, fixedrange=True)
    t = [p[0] for p in data]
    v = [p[1] for p in data]
    fig.add_trace(go.Scatter(x=t, y=v, mode="lines", xaxis="x" + sfx, yaxis="y" + sfx, hoverinfo="skip",
                             line=dict(color="#ff0000", width=1.1,
                                       shape="linear" if i in (0, 14) else "spline", smoothing=0.8),
                             showlegend=False))
    if i < 14:
        shapes.append(dict(type="line", xref=("x" + sfx + " domain"), x0=0, x1=1, yref="y" + sfx, y0=0, y1=0,
                           line=dict(color="#2a2a2a", width=1), layer="below"))
    ann.append(dict(x=px(21), y=py(top + 1), xref="paper", yref="paper", text=sensor_names[i], showarrow=False,
                    xanchor="left", yanchor="middle", bgcolor="#5ff7f7", borderpad=0,
                    font=dict(family=FONT, size=7, color="#101010")))
    ann.append(dict(x=px(97), y=py(top + 4.5), xref="paper", yref="paper", text=max_text[i], showarrow=False,
                    xanchor="right", yanchor="middle", font=dict(family=FONT, size=7, color="#555555")))
    if i < 14:
        ann.append(dict(x=px(21), y=py(bot - 0.5), xref="paper", yref="paper", text=time_label, showarrow=False,
                        xanchor="left", yanchor="middle", font=dict(family=FONT, size=7, color="#101010")))
        ann.append(dict(x=px(97), y=py(bot - 4), xref="paper", yref="paper", text=min_text[i], showarrow=False,
                        xanchor="right", yanchor="middle", font=dict(family=FONT, size=7, color="#555555")))
        ann.append(dict(x=px(94), y=py(top + 22), xref="paper", yref="paper", text="V", showarrow=False,
                        xanchor="center", yanchor="middle", font=dict(family=FONT, size=7, color="#555555")))
        ann.append(dict(x=px(box_cx[i]), y=py(box_cy[i]), xref="paper", yref="paper", text=box_labels[i],
                        showarrow=False, xanchor="center", yanchor="middle", bgcolor="#ffff00",
                        bordercolor="#000000", borderwidth=1, borderpad=0, width=box_w[i], height=27,
                        font=dict(family=FONT, size=13, color="#000000")))

ann.append(dict(x=px(30), y=py(14), xref="paper", yref="paper", text=event_title, showarrow=False,
                xanchor="left", yanchor="middle", font=dict(family=FONT, size=7, color="#333333")))
ann.append(dict(x=px(734), y=py(914), xref="paper", yref="paper", text="20 ms", showarrow=False,
                xanchor="center", yanchor="middle", bgcolor="#ffff00", bordercolor="#000000", borderwidth=1,
                borderpad=0, width=36, height=28, font=dict(family=FONT, size=13, color="#000000")))
bar = dict(color="#1432e6", width=2.5)
shapes.append(dict(type="line", xref="x15", x0=scale_start, x1=scale_start + scale_len, yref="paper",
                   y0=py(942), y1=py(942), line=bar))
shapes.append(dict(type="line", xref="x15", x0=scale_start, x1=scale_start, yref="paper",
                   y0=py(932), y1=py(942), line=bar))
shapes.append(dict(type="line", xref="x15", x0=scale_start + scale_len, x1=scale_start + scale_len, yref="paper",
                   y0=py(932), y1=py(942), line=bar))

fig.update_layout(width=W, height=H, autosize=False, margin=dict(l=0, r=0, t=0, b=0),
                  paper_bgcolor="#ffffff", plot_bgcolor="#ffffff", showlegend=False,
                  shapes=shapes, annotations=ann, **layout)
fig.write_html("out.html", config={"displayModeBar": False},
               post_script="document.body.style.margin='0';document.body.style.overflow='hidden';")
